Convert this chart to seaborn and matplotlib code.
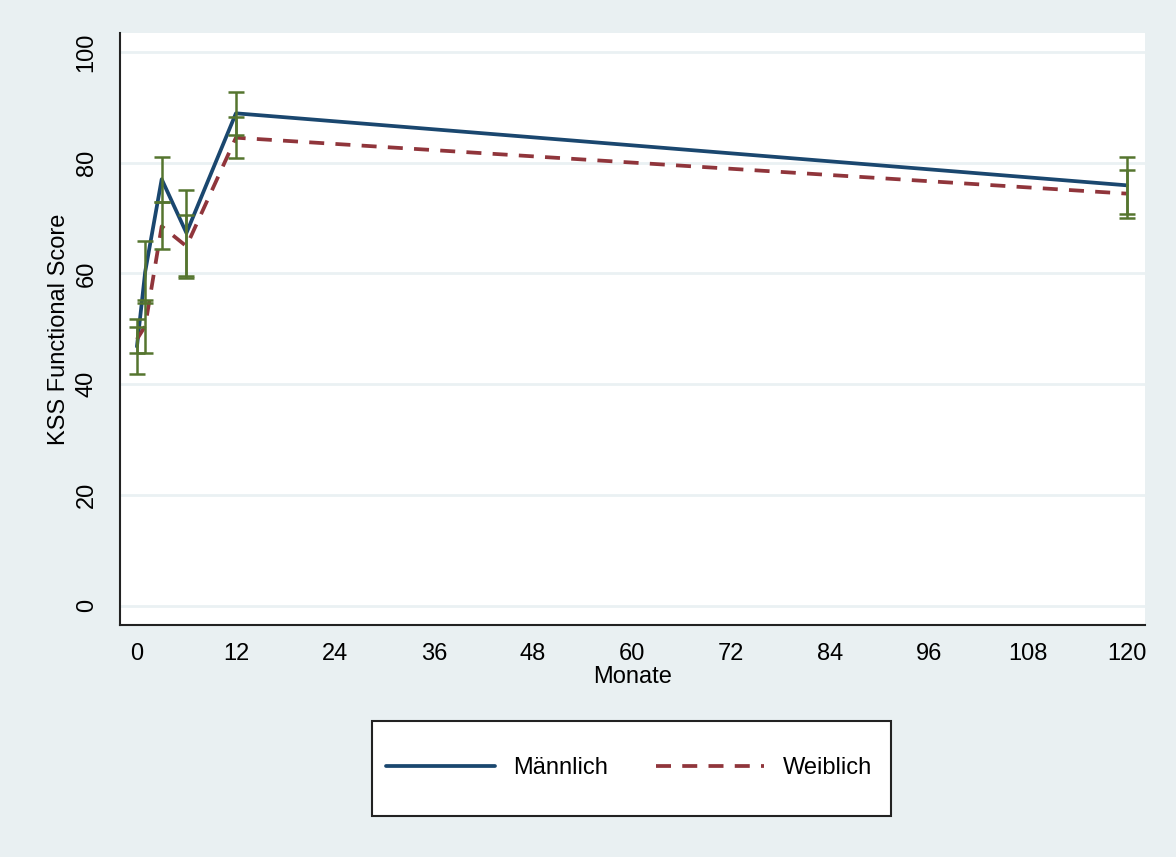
import pandas as pd
import matplotlib.pyplot as plt
import matplotlib.patches as mpatches
from matplotlib.lines import Line2D
import seaborn as sns

# Data
monate = [0, 1, 3, 6, 12, 120]
maennlich = [46.8, 60.3, 77.0, 67.3, 88.9, 75.9]
maennlich_lo = [41.9, 54.7, 72.9, 59.5, 85.0, 70.7]
maennlich_hi = [51.8, 65.9, 81.1, 75.1, 92.8, 81.1]
weiblich = [48.1, 50.5, 68.5, 64.9, 84.5, 74.4]
weiblich_lo = [45.7, 45.7, 64.4, 59.1, 80.8, 70.0]
weiblich_hi = [50.4, 55.2, 72.8, 70.6, 88.2, 78.7]

x_ticks = [0, 12, 24, 36, 48, 60, 72, 84, 96, 108, 120]
y_ticks = [0, 20, 40, 60, 80, 100]

BG = "#E9F0F2"
GRID = "#EAF1F3"
C_M = "#1A476F"
C_W = "#90353B"
C_CI = "#55752F"

sns.set_style("white")
plt.rcParams["font.family"] = ["Liberation Sans", "DejaVu Sans"]
plt.rcParams["text.color"] = "black"
plt.rcParams["axes.labelcolor"] = "black"

df = pd.DataFrame({
    "Monate": monate * 2,
    "Score": maennlich + weiblich,
    "Geschlecht": ["Männlich"] * len(monate) + ["Weiblich"] * len(monate),
})

fig = plt.figure(figsize=(11.76, 8.57), dpi=100, facecolor=BG)
ax = fig.add_axes([0.102, 0.271, 0.8716, 0.6905])
ax.set_facecolor("white")

sns.lineplot(data=df, x="Monate", y="Score", hue="Geschlecht", style="Geschlecht",
             palette={"Männlich": C_M, "Weiblich": C_W},
             dashes={"Männlich": "", "Weiblich": (4, 3)},
             linewidth=2.7, legend=False, ax=ax, zorder=3)

# confidence intervals
for mid, lo, hi in [(maennlich, maennlich_lo, maennlich_hi),
                    (weiblich, weiblich_lo, weiblich_hi)]:
    err = [[m - l for m, l in zip(mid, lo)], [h - m for m, h in zip(mid, hi)]]
    ax.errorbar(monate, mid, yerr=err, fmt="none", ecolor=C_CI,
                elinewidth=1.8, capsize=5.5, capthick=1.8, zorder=4)

ax.set_xlim(-2.06, 122.2)
ax.set_ylim(-3.43, 103.4)
ax.set_xticks(x_ticks)
ax.set_yticks(y_ticks)
ax.set_yticklabels([str(v) for v in y_ticks], rotation=90, va="center")
ax.yaxis.grid(True, color=GRID, linewidth=2)
ax.xaxis.grid(False)
ax.tick_params(axis="both", labelsize=17, length=10, width=1.5, colors="#333333",
               labelcolor="black", direction="out")
ax.tick_params(axis="y", pad=6)
ax.tick_params(axis="x", pad=3)
for s in ["top", "right"]:
    ax.spines[s].set_visible(False)
for s in ["left", "bottom"]:
    ax.spines[s].set_color("#222222")
    ax.spines[s].set_linewidth(1.5)

ax.set_xlabel("Monate", fontsize=17, labelpad=1)
ax.set_ylabel("KSS Functional Score", fontsize=17, labelpad=4)

# legend box below the plot
box = mpatches.Rectangle((0.316, 0.048), 0.442, 0.111, transform=fig.transFigure,
                         facecolor="white", edgecolor="#222222", linewidth=1.5)
fig.patches.append(box)
handles = [Line2D([], [], color=C_M, linewidth=2.7),
           Line2D([], [], color=C_W, linewidth=2.7, linestyle=(0, (4, 3)))]
fig.legend(handles, ["Männlich", "Weiblich"], loc="center",
           bbox_to_anchor=(0.535, 0.1035), ncol=2, frameon=False,
           fontsize=17, handlelength=4.6, handletextpad=0.8, columnspacing=2.0)

fig.savefig("out.png", dpi=100, facecolor=BG)
